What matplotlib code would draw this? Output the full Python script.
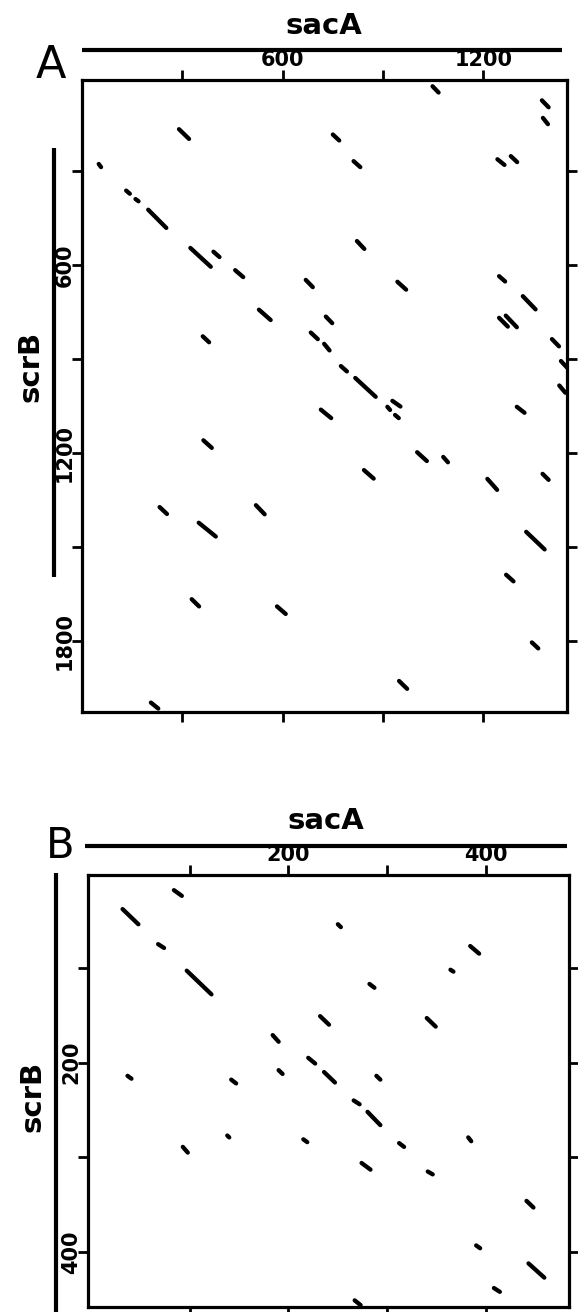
import numpy as np
import matplotlib.pyplot as plt
from matplotlib.collections import LineCollection
from matplotlib.ticker import FixedLocator, FuncFormatter

# ---- panel A: sacA (x) vs scrB (y), segment start/end in bp ----
a_x0 = [290, 50, 132, 160, 198, 324, 393, 458, 529, 361, 1048, 750, 812, 1242, 1282,
        822, 669, 943, 1247, 729, 684, 724, 774, 817, 1247, 1267, 1375, 1378, 1318, 1405,
        1432, 1427, 1300, 1377, 1212, 1328, 1268, 1345, 714, 928, 913, 936, 1002, 1080,
        843, 948, 363, 232, 349, 520, 328, 583, 206]
a_y0 = [165, 276, 361, 388, 422, 544, 556, 615, 741, 826, 28, 182, 267, 261, 251,
        522, 646, 652, 634, 763, 814, 850, 921, 959, 767, 760, 73, 129, 698, 835,
        905, 983, 1051, 1265, 1281, 1450, 1587, 1803, 1060, 1032, 1051, 1077, 1196, 1211,
        1253, 1926, 1158, 1371, 1421, 1365, 1665, 1688, 1995]
a_x1 = [320, 57, 143, 169, 252, 385, 411, 482, 564, 380, 1066, 769, 832, 1263, 1301,
        844, 690, 969, 1265, 748, 705, 740, 792, 878, 1273, 1300, 1395, 1393, 1356, 1426,
        1452, 1445, 1323, 1395, 1241, 1383, 1290, 1364, 745, 952, 921, 947, 1031, 1094,
        872, 972, 388, 254, 400, 546, 350, 609, 228]
a_y1 = [196, 286, 371, 395, 480, 604, 573, 637, 774, 845, 48, 201, 286, 279, 270,
        547, 669, 677, 651, 784, 835, 871, 938, 1019, 795, 797, 95, 149, 740, 858,
        928, 1006, 1070, 1284, 1316, 1506, 1608, 1822, 1087, 1050, 1061, 1087, 1224, 1228,
        1280, 1951, 1182, 1393, 1465, 1394, 1688, 1712, 2014]

# ---- panel B ----
b_x0 = [84, 32, 68, 97, 184, 37, 142, 190, 138, 93, 250, 384, 364, 282, 232, 340,
        220, 236, 289, 266, 280, 215, 312, 382, 274, 341, 390, 408, 267, 441, 443]
b_y0 = [18, 38, 75, 103, 171, 214, 218, 208, 277, 289, 54, 77, 102, 117, 151, 153,
        195, 210, 214, 240, 252, 281, 285, 279, 306, 315, 393, 438, 451, 346, 412]
b_x1 = [92, 48, 74, 122, 190, 41, 147, 194, 140, 98, 253, 393, 367, 287, 241, 349,
        227, 247, 293, 272, 293, 219, 317, 385, 283, 346, 394, 414, 273, 448, 459]
b_y1 = [24, 54, 79, 128, 178, 217, 222, 212, 279, 295, 57, 85, 104, 121, 160, 162,
        201, 221, 218, 244, 266, 284, 289, 283, 313, 318, 396, 442, 456, 353, 427]

# gene extents drawn as bars beside the axes
a_sac = [0, 1436]
a_scr = [226, 1595]
b_sac = [-6, 482]
b_scr = [0, 470]

W, H = 578, 1312
fig = plt.figure(figsize=(W / 100, H / 100), dpi=100)


def panel(box, xlim, ylim, tstep, lstep, x0, y0, x1, y1, sac, scr, sac_y, scr_x):
    l, t, r, b = box
    ax = fig.add_axes([l / W, 1 - b / H, (r - l) / W, (b - t) / H])
    segs = np.stack([np.column_stack([x0, y0]), np.column_stack([x1, y1])], axis=1)
    ax.add_collection(LineCollection(segs, colors='k', linewidths=3.1, capstyle='round'))
    ax.set_xlim(*xlim)
    ax.set_ylim(*ylim)
    ax.xaxis.set_major_locator(FixedLocator(np.arange(tstep, xlim[1], tstep)))
    ax.yaxis.set_major_locator(FixedLocator(np.arange(tstep, ylim[0], tstep)))
    fmt = FuncFormatter(lambda v, p: f"{v:.0f}" if v % lstep == 0 else "")
    ax.xaxis.set_major_formatter(fmt)
    ax.yaxis.set_major_formatter(fmt)
    ax.tick_params(direction='out', length=7, width=2, labelsize=15,
                   top=True, bottom=True, left=True, right=True,
                   labeltop=True, labelbottom=False, labelleft=True, labelright=False)
    ax.tick_params(axis='x', pad=0)
    ax.tick_params(axis='y', pad=-2, labelrotation=90)
    for lbl in ax.get_yticklabels() + ax.get_xticklabels():
        lbl.set_fontweight('bold')
    for lbl in ax.get_yticklabels():
        lbl.set_va('center')
    for s in ax.spines.values():
        s.set_linewidth(2.3)
    ax.plot(sac, [sac_y, sac_y], transform=ax.get_xaxis_transform(), clip_on=False,
            color='k', lw=3, solid_capstyle='butt')
    ax.plot([scr_x, scr_x], scr, transform=ax.get_yaxis_transform(), clip_on=False,
            color='k', lw=3, solid_capstyle='butt')
    return ax


panel((82, 80, 567, 712), (0, 1450), (2025, 8), 300, 600,
      a_x0, a_y0, a_x1, a_y1, a_sac, a_scr, 1.0475, -0.058)
panel((88, 875, 569, 1307), (-3, 484), (458, 2), 100, 200,
      b_x0, b_y0, b_x1, b_y1, b_sac, b_scr, 1.067, -0.066)

bold = dict(fontsize=21, fontweight='bold', ha='center', va='center')
fig.text(324 / W, 1 - 26 / H, "sacA", **bold)
fig.text(31 / W, 1 - 366 / H, "scrB", rotation=90, **bold)
fig.text(326 / W, 1 - 821 / H, "sacA", **bold)
fig.text(33 / W, 1 - 1096 / H, "scrB", rotation=90, **bold)
fig.text(51 / W, 1 - 66 / H, "A", fontsize=32, ha='center', va='center')
fig.text(60 / W, 1 - 846 / H, "B", fontsize=30, ha='center', va='center')

plt.savefig("out.png", dpi=100)
